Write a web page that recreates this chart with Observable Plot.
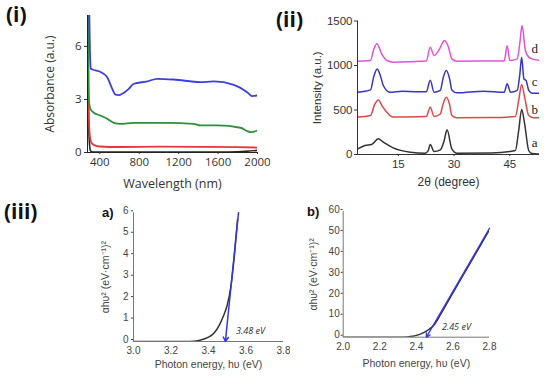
<!DOCTYPE html>
<html><head><meta charset="utf-8">
<script src="https://cdn.jsdelivr.net/npm/d3@7"></script>
<script src="https://cdn.jsdelivr.net/npm/@observablehq/plot@0.6"></script>
<style>
body{margin:0;background:#fff;}
#wrap{position:relative;width:550px;height:376px;overflow:hidden;background:#fff;}
.p{position:absolute;}
.lab{position:absolute;font-weight:bold;color:#111;line-height:1;white-space:nowrap;}
</style></head><body>
<div id="wrap">
  <div class="p" id="p1" style="left:0px;top:0px"></div>
  <div class="p" id="p2" style="left:275px;top:0px"></div>
  <div class="p" id="p3" style="left:90px;top:200px"></div>
  <div class="p" id="p4" style="left:300px;top:200px"></div>
  <div class="lab" style="left:6px;top:4px;font-size:21px;font-family:'Open Sans',sans-serif">(i)</div>
  <div class="lab" style="left:276px;top:9px;font-size:21px;font-family:'Open Sans',sans-serif">(ii)</div>
  <div class="lab" style="left:4px;top:201px;font-size:21px;font-family:'Open Sans',sans-serif">(iii)</div>
  <div class="lab" style="left:102px;top:206px;font-size:13px;font-family:'Liberation Sans',Arial,sans-serif">a)</div>
  <div class="lab" style="left:307px;top:205px;font-size:13px;font-family:'Liberation Sans',Arial,sans-serif">b)</div>
</div>
<script>
// ---------- Panel (i): absorbance vs wavelength ----------
const wlDomain = [275, 2000];
const absDomain = [0, 7.75];
const wlTicks = [400, 800, 1200, 1600, 2000];
const absTicks = [0, 3, 6];
const blackWl = [275, 283, 292, 305, 330, 400, 1000, 1600, 1800, 2000];
const blackAbs = [9, 3, 0.8, 0.1, 0.03, 0.02, 0.02, 0.02, 0.04, 0.12];
const redWl = [278, 285, 297, 315, 342, 400, 600, 1000, 1400, 1800, 2000];
const redAbs = [9, 2.9, 1.06, 0.55, 0.42, 0.34, 0.31, 0.33, 0.32, 0.30, 0.28];
const greenWl = [279, 285, 292, 305, 339, 407, 475, 542, 610, 745, 1084, 1353, 1421, 1590, 1827, 1895, 1936, 2000];
const greenAbs = [9, 4, 2.8, 2.45, 2.25, 2.09, 1.91, 1.68, 1.62, 1.68, 1.68, 1.62, 1.53, 1.53, 1.40, 1.21, 1.15, 1.25];
const blueWl = [290, 303, 308, 335, 407, 475, 526, 559, 590, 627, 694, 745, 881, 982, 1150, 1421, 1556, 1759, 1895, 1946, 2000];
const blueAbs = [9, 5.2, 4.75, 4.68, 4.55, 4.26, 3.6, 3.27, 3.25, 3.32, 3.6, 3.89, 4.02, 4.17, 4.13, 3.98, 4.02, 3.83, 3.41, 3.19, 3.23];

// ---------- Panel (ii): XRD ----------
const tDomain = [4, 53];
const intDomain = [0, 1500];
const tTicks = [15, 30, 45];
const intTicks = [0, 500, 1000, 1500];
const aX = [4.1, 6.0, 7.8, 9.6, 10.95, 13.6, 18.2, 22.2, 23.0, 23.6, 24.6, 26.3, 27.3, 28.1, 29.4, 30.8, 40, 46.5, 47.4, 48.2, 49.0, 50.1, 51.0, 52.8];
const aY = [64, 101, 112, 176, 138, 75, 26, 15, 40, 112, 34, 52, 150, 277, 64, 15, 18, 45, 270, 505, 344, 45, 10, 7];
const bX = [4.1, 7.5, 8.6, 9.6, 10.7, 11.9, 13.6, 22.5, 23.6, 24.6, 26.3, 27.0, 27.9, 28.8, 29.4, 30.8, 40, 46.5, 47.4, 48.2, 49.0, 50.1, 51.5, 52.8];
const bY = [420, 438, 560, 613, 540, 475, 420, 427, 530, 427, 455, 560, 643, 560, 438, 412, 415, 427, 607, 787, 644, 438, 412, 412];
const cX = [4.1, 7.5, 8.4, 9.3, 10.2, 10.95, 12.75, 16, 20, 22.5, 23.6, 24.6, 26.3, 27.0, 27.9, 28.8, 29.4, 30.8, 38, 43.5, 44.3, 45.2, 47.0, 47.7, 48.2, 48.8, 49.4, 50.1, 51, 52.8];
const cY = [700, 726, 880, 962, 880, 775, 700, 712, 705, 705, 835, 700, 720, 850, 944, 850, 726, 693, 712, 700, 794, 700, 720, 900, 1093, 850, 831, 720, 689, 689];
const dX = [4.1, 7.5, 8.3, 9.2, 10.5, 11.9, 13.6, 22.5, 23.6, 24.6, 26.0, 27.4, 28.5, 29.4, 30.8, 43.5, 44.3, 45.0, 47.0, 47.7, 48.3, 49.2, 50.1, 51, 52.8];
const dY = [1049, 1056, 1170, 1243, 1131, 1056, 1037, 1050, 1206, 1112, 1180, 1281, 1206, 1075, 1049, 1050, 1222, 1056, 1075, 1250, 1450, 1169, 1094, 1075, 1060];
const xrdNames = ["a", "b", "c", "d"];
const xrdNameX = [51.7, 51.7, 51.7, 51.7];
const xrdNameY = [127, 506, 820, 1188];

// ---------- Panel (iii) a ----------
const eaDomain = [3.0, 3.8];
const yaDomain = [0, 6];
const eaTicks = [3.0, 3.2, 3.4, 3.6, 3.8];
const yaTicks = [0, 1, 2, 3, 4, 5, 6];
const eaX = [3.0, 3.3, 3.35, 3.4, 3.43, 3.46, 3.48, 3.5, 3.52, 3.54, 3.555];
const eaY = [0, 0, 0.05, 0.2, 0.4, 0.8, 1.2, 1.7, 2.6, 4.2, 5.7];
const fitA = [{x1: 3.56, y1: 6, x2: 3.49, y2: 0}];
const noteA = [{x: 3.624, y: 0.47, t: "3.48 eV"}];

// ---------- Panel (iii) b ----------
const ebDomain = [2.0, 2.8];
const ybDomain = [0, 60];
const ebTicks = [2.0, 2.2, 2.4, 2.6, 2.8];
const ybTicks = [0, 10, 20, 30, 40, 50, 60];
const ebX = [2.0, 2.3, 2.35, 2.38, 2.41, 2.44, 2.47, 2.5, 2.53, 2.6, 2.7, 2.8];
const ebY = [0, 0, 0.15, 0.45, 1.1, 2.2, 3.8, 6.2, 10.5, 21.2, 36.2, 51.3];
const fitB = [{x1: 2.8, y1: 52, x2: 2.455, y2: 0}];
const noteB = [{x: 2.619, y: 4.6, t: "2.45 eV"}];

const pairs = (xs, ys) => xs.map((x, i) => ({x, y: ys[i]}));
const lineOpts = (stroke, w) => ({x: "x", y: "y", stroke, strokeWidth: w, curve: "monotone-x", clip: true});

// Panel (i)
document.getElementById("p1").append(Plot.plot({
  width: 275, height: 195,
  marginLeft: 87, marginRight: 18, marginTop: 15, marginBottom: 43,
  style: {fontFamily: "'Open Sans', sans-serif", fontSize: "11.5px", color: "#333", background: "transparent"},
  x: {domain: wlDomain},
  y: {domain: absDomain},
  marks: [
    Plot.line(pairs(blackWl, blackAbs), lineOpts("#222", 1.6)),
    Plot.line(pairs(redWl, redAbs), lineOpts("#e3393a", 1.8)),
    Plot.line(pairs(greenWl, greenAbs), lineOpts("#2f8f3a", 1.8)),
    Plot.line(pairs(blueWl, blueAbs), lineOpts("#3b3fe6", 1.8)),
    Plot.ruleX([wlDomain[0]], {stroke: "#222", strokeWidth: 1}),
    Plot.ruleY([absDomain[0]], {stroke: "#222", strokeWidth: 1}),
    Plot.axisY({ticks: absTicks, tickSize: 3, tickPadding: 3, label: null, tickFormat: d3.format("d")}),
    Plot.axisX({ticks: wlTicks, tickSize: 2, tickPadding: 3, label: null, tickFormat: d3.format("d")}),
    Plot.text(["Wavelength (nm)"], {text: d => d, frameAnchor: "bottom", lineAnchor: "middle", textAnchor: "middle", dy: 31, fontSize: 12.5}),
    Plot.text(["Absorbance (a.u.)"], {text: d => d, frameAnchor: "left", textAnchor: "middle", lineAnchor: "middle", rotate: -90, dx: -37, fontSize: 12})
  ]
}));

// Panel (ii)
const xrdSeries = [[aX, aY, "#333333"], [bX, bY, "#e0474a"], [cX, cY, "#3636c4"], [dX, dY, "#e052e0"]];
document.getElementById("p2").append(Plot.plot({
  width: 275, height: 195,
  marginLeft: 82, marginRight: 11, marginTop: 20.5, marginBottom: 41,
  style: {fontFamily: "'Liberation Sans', Arial, sans-serif", fontSize: "11.5px", color: "#333", background: "transparent"},
  x: {domain: tDomain},
  y: {domain: intDomain},
  marks: [
    ...xrdSeries.map(([xs, ys, c]) => Plot.line(pairs(xs, ys), lineOpts(c, 1.5))),
    Plot.ruleX([tDomain[0]], {stroke: "#333"}),
    Plot.ruleY([intDomain[0]], {stroke: "#333"}),
    Plot.axisY({ticks: intTicks, tickSize: 3, tickPadding: 2, label: null, tickFormat: d3.format("d")}),
    Plot.axisX({ticks: tTicks, tickSize: 2, tickPadding: 3, label: null, tickFormat: d3.format("d")}),
    Plot.text(xrdNames, {x: (d, i) => xrdNameX[i], y: (d, i) => xrdNameY[i], text: d => d, fontFamily: "'Liberation Serif', 'DejaVu Serif', serif", fontSize: 13, fill: "#222"}),
    Plot.text(["2θ (degree)"], {text: d => d, frameAnchor: "bottom", lineAnchor: "middle", textAnchor: "middle", dy: 27.5, fontSize: 12}),
    Plot.text(["Intensity (a.u.)"], {text: d => d, frameAnchor: "left", textAnchor: "middle", lineAnchor: "middle", rotate: -90, dx: -40, fontSize: 11.5})
  ]
}));

// Panel (iii) a
document.getElementById("p3").append(Plot.plot({
  width: 200, height: 176,
  marginLeft: 43, marginRight: 7, marginTop: 12.3, marginBottom: 35,
  style: {fontFamily: "'Liberation Sans', Arial, sans-serif", fontSize: "10px", color: "#444", background: "transparent"},
  x: {domain: eaDomain},
  y: {domain: yaDomain},
  marks: [
    Plot.ruleX([eaDomain[0]], {stroke: "#777"}),
    Plot.ruleY([yaDomain[0]], {stroke: "#777"}),
    Plot.line(pairs(eaX, eaY), lineOpts("#333", 1.5)),
    Plot.arrow(fitA, {x1: "x1", y1: "y1", x2: "x2", y2: "y2", stroke: "#3535e8", strokeWidth: 1.5, headLength: 5}),
    Plot.axisY({ticks: yaTicks, tickSize: 2, tickPadding: 3, label: null, tickFormat: d3.format("d"), dy: -2}),
    Plot.axisX({ticks: eaTicks, tickSize: 0, tickPadding: 5, label: null, tickFormat: d3.format(".1f")}),
    Plot.text(noteA, {x: "x", y: "y", text: "t", fontFamily: "'Open Sans', sans-serif", fontStyle: "italic", fontSize: 9, fill: "#333"}),
    Plot.text(["Photon energy, hυ (eV)"], {text: d => d, frameAnchor: "bottom", lineAnchor: "middle", textAnchor: "middle", dy: 23, fontSize: 10.5}),
    Plot.text(["αhυ² (eV·cm⁻¹)²"], {text: d => d, frameAnchor: "left", textAnchor: "middle", lineAnchor: "middle", rotate: -90, dx: -28, fontSize: 10.5})
  ]
}));

// Panel (iii) b
document.getElementById("p4").append(Plot.plot({
  width: 200, height: 176,
  marginLeft: 42.7, marginRight: 11, marginTop: 11, marginBottom: 39.3,
  style: {fontFamily: "'Liberation Sans', Arial, sans-serif", fontSize: "10px", color: "#444", background: "transparent"},
  x: {domain: ebDomain},
  y: {domain: ybDomain},
  marks: [
    Plot.ruleX([ebDomain[0]], {stroke: "#777"}),
    Plot.ruleY([ybDomain[0]], {stroke: "#777"}),
    Plot.line(pairs(ebX, ebY), lineOpts("#333", 1.5)),
    Plot.arrow(fitB, {x1: "x1", y1: "y1", x2: "x2", y2: "y2", stroke: "#3535e8", strokeWidth: 1.3, headLength: 5}),
    Plot.axisY({ticks: ybTicks, tickSize: 2, tickPadding: 1.5, label: null, tickFormat: d3.format("d"), dy: -2}),
    Plot.axisX({ticks: ebTicks, tickSize: 0, tickPadding: 5.5, label: null, tickFormat: d3.format(".1f")}),
    Plot.text(noteB, {x: "x", y: "y", text: "t", fontFamily: "'Open Sans', sans-serif", fontStyle: "italic", fontSize: 9, fill: "#333"}),
    Plot.text(["Photon energy, hυ (eV)"], {text: d => d, frameAnchor: "bottom", lineAnchor: "middle", textAnchor: "middle", dy: 26.3, fontSize: 10.5}),
    Plot.text(["αhυ² (eV·cm⁻¹)²"], {text: d => d, frameAnchor: "left", textAnchor: "middle", lineAnchor: "middle", rotate: -90, dx: -29.7, fontSize: 10.5})
  ]
}));
</script>
</body></html>
